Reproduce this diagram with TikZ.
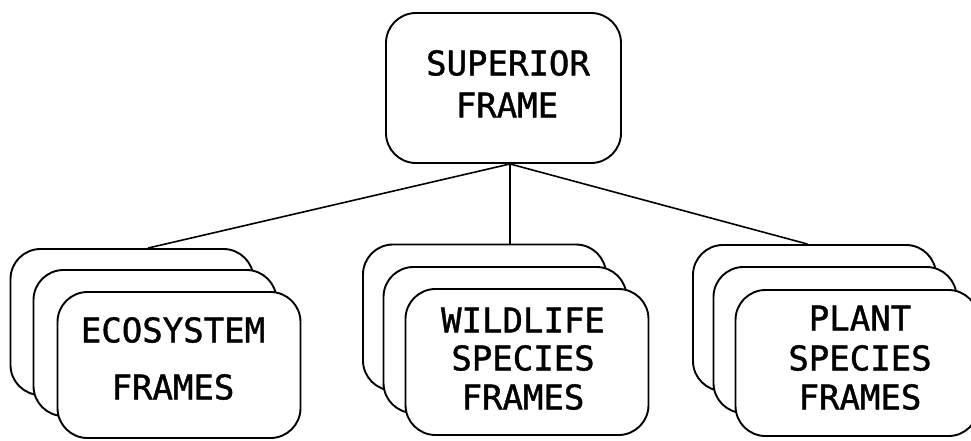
\documentclass[tikz,border=0pt]{standalone}
\usepackage{fontspec}
\newfontfamily\plotfont[FakeBold=1.2]{DejaVu Sans Mono}
\begin{document}
\begin{tikzpicture}[x=1pt,y=-1pt,
  framebox/.style={draw, fill=white, rounded corners=30pt, line width=1.9pt,
    minimum width=243pt, minimum height=146pt, inner sep=0pt},
  supbox/.style={draw, fill=white, rounded corners=30pt, line width=1.9pt,
    minimum width=235pt, minimum height=150pt, inner sep=0pt},
  label/.style={font=\plotfont\fontsize{34}{40}\selectfont, inner sep=0pt, anchor=center},
  link/.style={line width=1.6pt}]
\useasboundingbox (0,0) rectangle (971,440);
% superior frame
\node[supbox] (sup) at (503.5,88) {};
\node[label] (supt1) at (508,63) {SUPERIOR};
\node[label] (supt2) at (507,105) {FRAME};
% left stack
\node[framebox] (lb) at (132,322) {};
\node[framebox] (lm) at (155,343) {};
\node[framebox] (lf) at (179,365) {};
\node[label] (lt1) at (173,330) {ECOSYSTEM};
\node[label] (lt2) at (173,387) {FRAMES};
% centre stack
\node[framebox] (cb) at (484.5,317.5) {};
\node[framebox] (cm) at (505,340) {};
\node[framebox] (cf) at (527,362) {};
\node[label] (ct1) at (523,320) {WILDLIFE};
\node[label] (ct2) at (523,358) {SPECIES};
\node[label] (ct3) at (523,397) {FRAMES};
% right stack
\node[framebox] (rb) at (814.5,318) {};
\node[framebox] (rm) at (835,340) {};
\node[framebox] (rf) at (857,363) {};
\node[label] (rt1) at (860,318) {PLANT};
\node[label] (rt2) at (860,358) {SPECIES};
\node[label] (rt3) at (860,397) {FRAMES};
% connectors
\coordinate (hub) at ([xshift=6.5pt]sup.south);
\draw[link] (hub) -- ([xshift=16pt]lb.north);
\draw[link] (hub) -- ([xshift=25.5pt]cb.north);
\draw[link] (hub) -- ([xshift=-7pt]rb.north);
\end{tikzpicture}
\end{document}
